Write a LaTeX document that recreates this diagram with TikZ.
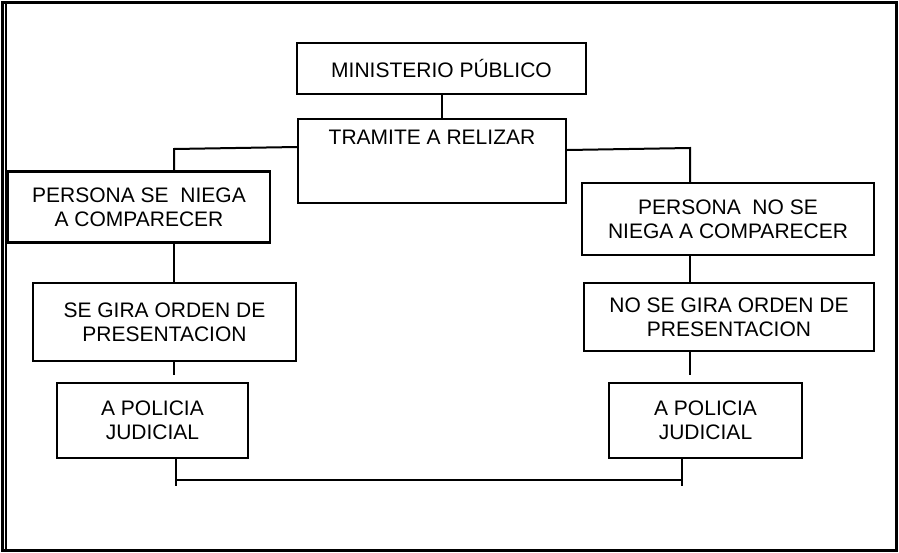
\documentclass[tikz,border=0pt]{standalone}
\usepackage{fontspec}
\setmainfont{Liberation Sans}
\usepackage{tikz}
\usetikzlibrary{positioning, calc}

\begin{document}
\begin{tikzpicture}[
  x=1pt, y=-1pt,
  line width=2pt,
  box/.style={
    rectangle,
    draw,
    line width=2.2pt,
    align=center,
    inner sep=0pt,
    font=\fontsize{21}{24}\selectfont
  },
  conn/.style={
    line width=2pt
  }
]
\useasboundingbox (0,0) rectangle (899,552);

% Outer frame
\draw[line width=3pt] (2,2) rectangle (896,550);
\draw[line width=1.5pt] (6,2) -- (6,550);

% Top
\node[box, minimum width=289, minimum height=51] (mp) at (441.5,68.5) {MINISTERIO PÚBLICO};
\node[box, minimum width=268, minimum height=84,
  label={[font=\fontsize{21}{24}\selectfont, anchor=north, yshift=-8pt]north:TRAMITE A RELIZAR}] (tramite) at (432,161) {};

% Left branch
\node[box, minimum width=262, minimum height=71] (niega) at (139,207) {PERSONA SE\ \ NIEGA\\A COMPARECER};
\node[box, minimum width=263, minimum height=78] (segira) at (164.5,322) {SE GIRA ORDEN DE\\PRESENTACION};
\node[box, minimum width=191, minimum height=75] (polizq) at (152.5,420.5) {A POLICIA\\JUDICIAL};

% Right branch
\node[box, minimum width=292, minimum height=72] (niegano) at (728,219) {PERSONA\ \ NO SE\\NIEGA A COMPARECER};
\node[box, minimum width=290, minimum height=68] (nogira) at (729,317) {NO SE GIRA ORDEN DE\\PRESENTACION};
\node[box, minimum width=193, minimum height=75] (polder) at (705.5,420.5) {A POLICIA\\JUDICIAL};

% Connector columns
\coordinate (lx) at (174,0);
\coordinate (rx) at (690,0);
\coordinate (bl) at (176,0);
\coordinate (br) at (682,0);

% Connectors
\draw[conn] ([yshift=2pt]mp.south) -- (mp |- tramite.north);
\draw[conn] ([yshift=14pt]tramite.west) -- ([yshift=12pt]tramite.west -| lx) -- (lx |- niega.north);
\draw[conn] ([yshift=11pt]tramite.east) -- ([yshift=13pt]tramite.east -| rx) -- (rx |- niegano.north);
\draw[conn] (lx |- niega.south) -- (lx |- segira.north);
\draw[conn] (lx |- segira.south) -- ++(0,13);
\draw[conn] (rx |- niegano.south) -- (rx |- nogira.north);
\draw[conn] (rx |- nogira.south) -- ++(0,23);

% Bottom join
\draw[conn] (bl |- polizq.south) -- ++(0,27);
\draw[conn] (br |- polder.south) -- ++(0,27);
\draw[conn] ([yshift=-21pt]polizq.south -| bl) -- ([yshift=-21pt]polder.south -| br);

\end{tikzpicture}
\end{document}
